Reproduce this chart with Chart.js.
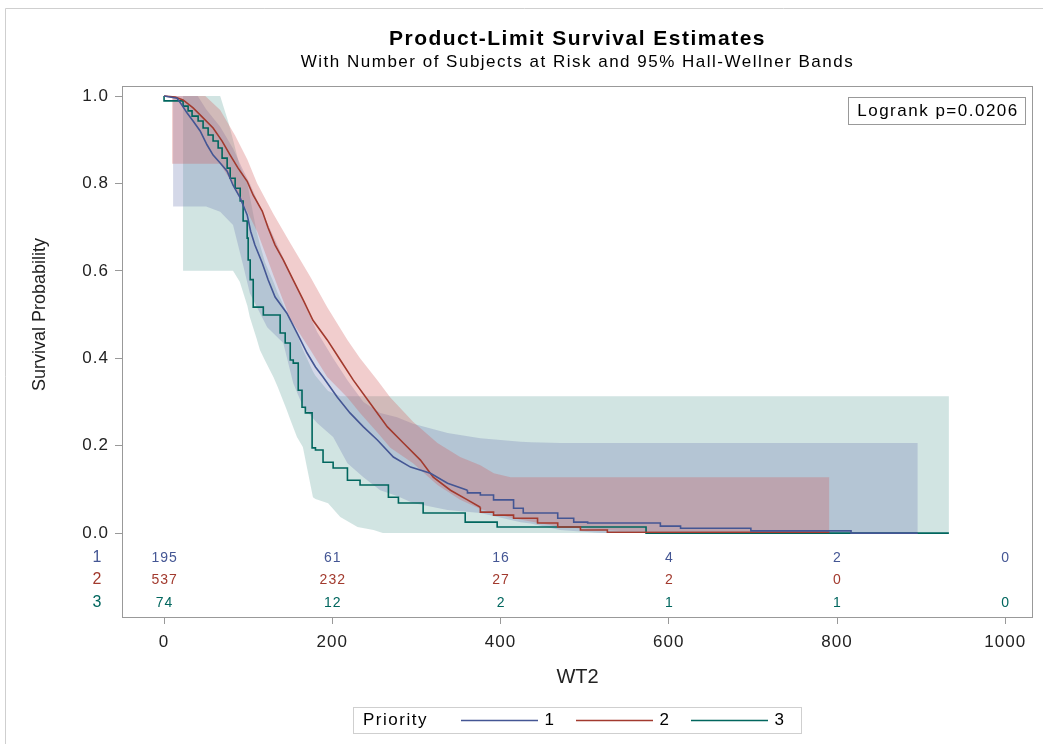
<!DOCTYPE html>
<html>
<head>
<meta charset="utf-8">
<script src="https://cdn.jsdelivr.net/npm/chart.js@4.4.1/dist/chart.umd.min.js"></script>
<style>
  html, body { margin: 0; padding: 0; background: #fff; }
</style>
</head>
<body>
<canvas id="km" width="1043" height="744"></canvas>
<script>
// ---- data ----
const risk_times = [0, 200, 400, 600, 800, 1000]
const at_risk_1 = [195, 61, 16, 4, 2, 0]
const at_risk_2 = [537, 232, 27, 2, 0, null]
const at_risk_3 = [74, 12, 2, 1, 1, 0]
const group_names = ['1', '2', '3']
const x_ticks = [0, 200, 400, 600, 800, 1000]
const y_ticks = [0, 0.2, 0.4, 0.6, 0.8, 1.0]

// product-limit estimates (step functions)
const time_1 = [0, 15.5, 21.4, 27.4, 34.5, 42.9, 51.2, 58.3, 66.7, 75, 82, 90.5, 98.8, 103, 108, 116.7, 123.8, 132, 146, 158, 170, 180, 189, 206, 221, 237, 253.6, 272.6, 293, 316.7, 337, 360.7, 376, 391.7, 415.5, 427, 468, 487, 503.6, 590, 614, 697.6, 816.7, 896]
const surv_1 = [1, 0.995, 0.979, 0.961, 0.943, 0.920, 0.888, 0.865, 0.847, 0.828, 0.796, 0.767, 0.728, 0.69, 0.659, 0.618, 0.579, 0.540, 0.503, 0.458, 0.412, 0.380, 0.357, 0.311, 0.275, 0.243, 0.213, 0.174, 0.151, 0.137, 0.114, 0.098, 0.092, 0.087, 0.076, 0.057, 0.046, 0.034, 0.025, 0.023, 0.016, 0.011, 0.005, 0.0]

const time_2 = [0, 13, 22.6, 34.5, 46.4, 58.3, 69, 78.6, 88, 98.8, 106, 116.7, 123.8, 132, 141.7, 153.6, 165.5, 177, 194, 209.5, 225, 245, 265.5, 284.5, 304.8, 320, 340.5, 360.7, 376, 391.7, 415.5, 444, 468, 495, 527, 650, 791]
const surv_2 = [1, 0.998, 0.991, 0.973, 0.950, 0.927, 0.897, 0.865, 0.835, 0.805, 0.773, 0.737, 0.698, 0.659, 0.625, 0.579, 0.533, 0.487, 0.442, 0.396, 0.350, 0.297, 0.243, 0.206, 0.167, 0.128, 0.098, 0.076, 0.059, 0.048, 0.041, 0.034, 0.023, 0.014, 0.007, 0.002, 0.002]

const time_3 = [0, 22.6, 28.6, 33.3, 40.5, 46.4, 52.4, 58.3, 64.3, 69, 75, 78.6, 84.5, 90.5, 94, 98.8, 100, 102.4, 106, 118, 138, 144, 150, 153.6, 159.5, 164, 168, 176, 180, 189, 201, 218, 233, 266.7, 278.6, 308, 358, 396, 573, 933]
const surv_3 = [1, 0.989, 0.977, 0.966, 0.954, 0.943, 0.927, 0.911, 0.897, 0.881, 0.858, 0.835, 0.812, 0.789, 0.760, 0.714, 0.675, 0.625, 0.58, 0.517, 0.499, 0.458, 0.435, 0.396, 0.389, 0.327, 0.288, 0.275, 0.195, 0.19, 0.162, 0.149, 0.121, 0.110, 0.082, 0.069, 0.046, 0.025, 0.014, 0]

// 95% Hall-Wellner bands
const band_x_1 = [10.7, 40, 50, 66.7, 82, 94, 102, 122.6, 141.7, 153.6, 165.5, 182, 201, 218, 237, 257, 277, 296, 337, 376, 424, 436, 471, 519, 896]
const band_hi_1 = [1, 1, 0.97, 0.93, 0.88, 0.83, 0.80, 0.71, 0.63, 0.58, 0.53, 0.46, 0.40, 0.35, 0.30, 0.275, 0.265, 0.25, 0.229, 0.217, 0.209, 0.208, 0.206, 0.206, 0.206]
const band_lo_1 = [0.747, 0.747, 0.747, 0.735, 0.705, 0.613, 0.549, 0.471, 0.435, 0.343, 0.288, 0.252, 0.22, 0.16, 0.128, 0.098, 0.085, 0.069, 0.053, 0.046, 0.025, 0.022, 0.007, 0, 0]

const band_x_2 = [9.5, 49, 66.7, 84.5, 99, 110.7, 130, 150, 174, 194, 218, 233, 253.6, 269, 296, 325, 352, 376, 392, 412, 471, 543, 791]
const band_hi_2 = [1, 1, 0.968, 0.91, 0.855, 0.80, 0.73, 0.664, 0.586, 0.517, 0.442, 0.40, 0.35, 0.31, 0.255, 0.206, 0.174, 0.155, 0.137, 0.128, 0.128, 0.128, 0.128]
const band_lo_2 = [0.845, 0.845, 0.845, 0.79, 0.735, 0.69, 0.59, 0.49, 0.419, 0.357, 0.31, 0.275, 0.23, 0.195, 0.16, 0.11, 0.076, 0.055, 0.046, 0.035, 0.014, 0.005, 0.002]

const band_x_3 = [22.6, 66.7, 76, 82, 90, 99, 102, 110, 114, 120, 130, 135, 146, 150, 158, 165, 177, 180, 195, 209.5, 230, 249, 260, 933]
const band_hi_3 = [1, 1, 0.943, 0.90, 0.84, 0.80, 0.77, 0.69, 0.66, 0.62, 0.575, 0.55, 0.505, 0.49, 0.455, 0.42, 0.37, 0.36, 0.325, 0.313, 0.313, 0.313, 0.313, 0.313]
const band_lo_3 = [0.60, 0.60, 0.60, 0.60, 0.575, 0.52, 0.494, 0.445, 0.419, 0.395, 0.357, 0.335, 0.281, 0.26, 0.22, 0.197, 0.082, 0.078, 0.068, 0.037, 0.014, 0.007, 0, 0]

const logrank_text = 'Logrank p=0.0206'

// ---- styles ----
const sans = "'Liberation Sans', Arial, sans-serif"
const line_colors = ['#445694', '#A23A2E', '#01665E']
const band_colors = ['rgba(111,126,179,0.3)', 'rgba(208,91,91,0.3)', 'rgba(102,165,160,0.3)']

function pts(xs, ys) {
    return xs.map((x, i) => ({ x: x, y: ys[i] }))
}

// busy part of a curve (many tiny steps) is drawn as a plain line,
// the sparse tail as a real staircase
function curve(xs, ys, color, dense_end) {
    const k = Math.max(0, xs.findIndex(t => t >= dense_end))
    const base = {
        borderColor: color,
        borderWidth: 1.6,
        pointRadius: 0,
        fill: false
    }
    const sets = []
    if (k > 0) {
        sets.push({ ...base, data: pts(xs.slice(0, k + 1), ys.slice(0, k + 1)), stepped: false })
    }
    sets.push({ ...base, data: pts(xs.slice(k), ys.slice(k)), stepped: 'after' })
    return sets
}

function band(xs, hi, lo, color) {
    return [{
        data: pts(xs, hi),
        borderColor: 'rgba(0,0,0,0)',
        borderWidth: 0,
        pointRadius: 0,
        backgroundColor: color,
        fill: { target: '+1' }
    }, {
        data: pts(xs, lo),
        borderColor: 'rgba(0,0,0,0)',
        borderWidth: 0,
        pointRadius: 0,
        fill: false
    }]
}

const risk_rows = [at_risk_1, at_risk_2, at_risk_3]
const row_offsets = [25, 47, 70]   // pixels below the 0.0 line

function spaced(ctx, font, spacing) {
    ctx.font = font
    ctx.letterSpacing = spacing
}

const extras = {
    id: 'km_extras',
    beforeDraw(chart) {
        const ctx = chart.ctx
        ctx.save()
        ctx.fillStyle = '#fff'
        ctx.fillRect(0, 0, chart.width, chart.height)
        ctx.strokeStyle = '#cfcfcf'
        ctx.lineWidth = 1
        ctx.beginPath()
        ctx.moveTo(5.5, chart.height)
        ctx.lineTo(5.5, 8.5)
        ctx.lineTo(chart.width, 8.5)
        ctx.stroke()
        ctx.restore()
        // wider letter spacing for the tick labels
        ctx.letterSpacing = '1px'
    },
    afterDraw(chart) {
        const ctx = chart.ctx
        const area = chart.chartArea
        const xs = chart.scales.x
        const ys = chart.scales.y
        const cx = (area.left + area.right) / 2
        const y0 = ys.getPixelForValue(0)
        const y1 = ys.getPixelForValue(1)

        ctx.save()
        // plot frame
        ctx.strokeStyle = '#999'
        ctx.lineWidth = 1
        ctx.strokeRect(Math.round(area.left) + 0.5, Math.round(area.top) + 0.5,
            Math.round(area.right - area.left) - 1, Math.round(area.bottom - area.top))

        ctx.fillStyle = '#000'
        ctx.textAlign = 'center'
        ctx.textBaseline = 'middle'
        spaced(ctx, `bold 21px ${sans}`, '1.5px')
        ctx.fillText('Product-Limit Survival Estimates', cx, 39)
        spaced(ctx, `17px ${sans}`, '1.5px')
        ctx.fillText('With Number of Subjects at Risk and 95% Hall-Wellner Bands', cx, 62)

        // axis titles
        ctx.fillStyle = '#222'
        spaced(ctx, `20px ${sans}`, '0px')
        ctx.fillText('WT2', cx, 677)
        ctx.save()
        ctx.translate(40, (y0 + y1) / 2)
        ctx.rotate(-Math.PI / 2)
        spaced(ctx, `18px ${sans}`, '0px')
        ctx.fillText('Survival Probability', 0, 0)
        ctx.restore()

        // number at risk table
        risk_rows.forEach((row, g) => {
            const ry = y0 + row_offsets[g]
            ctx.fillStyle = line_colors[g]
            spaced(ctx, `16px ${sans}`, '0px')
            ctx.fillText(group_names[g], 97, ry)
            spaced(ctx, `14px ${sans}`, '1px')
            row.forEach((n, i) => {
                if (n === null) return
                ctx.fillText(String(n), xs.getPixelForValue(risk_times[i]) + 0.5, ry)
            })
        })

        // logrank inset
        const bx = Math.round(area.right) - 185
        const by = Math.round(area.top) + 11
        ctx.fillStyle = '#fff'
        ctx.fillRect(bx, by, 177, 27)
        ctx.strokeStyle = '#999'
        ctx.strokeRect(bx + 0.5, by + 0.5, 177, 27)
        ctx.fillStyle = '#000'
        spaced(ctx, `17px ${sans}`, '1.5px')
        ctx.fillText(logrank_text, bx + 90, by + 14)

        // legend
        const lx = Math.round(cx) - 225
        const ly = 707
        ctx.strokeStyle = '#cfcfcf'
        ctx.strokeRect(lx + 0.5, ly + 0.5, 448, 26)
        ctx.fillStyle = '#000'
        ctx.textAlign = 'left'
        spaced(ctx, `17px ${sans}`, '1.5px')
        ctx.fillText('Priority', lx + 10, ly + 13)
        const item_x = [108, 223, 338]
        group_names.forEach((name, g) => {
            const sx = lx + item_x[g]
            ctx.strokeStyle = line_colors[g]
            ctx.lineWidth = 1.5
            ctx.beginPath()
            ctx.moveTo(sx, ly + 13.5)
            ctx.lineTo(sx + 77, ly + 13.5)
            ctx.stroke()
            ctx.fillStyle = '#000'
            ctx.textAlign = 'center'
            ctx.fillText(name, sx + 89, ly + 13)
        })
        ctx.restore()
        ctx.letterSpacing = '0px'
    }
}

new Chart(document.getElementById('km'), {
    type: 'line',
    data: {
        datasets: [
            ...curve(time_1, surv_1, line_colors[0], 360.7),
            ...curve(time_2, surv_2, line_colors[1], 376),
            ...curve(time_3, surv_3, line_colors[2], 0),
            ...band(band_x_2, band_hi_2, band_lo_2, band_colors[1]),
            ...band(band_x_1, band_hi_1, band_lo_1, band_colors[0]),
            ...band(band_x_3, band_hi_3, band_lo_3, band_colors[2])
        ]
    },
    options: {
        responsive: false,
        animation: false,
        devicePixelRatio: 1,
        layout: { padding: { top: 86, right: 10, bottom: 47, left: 0 } },
        plugins: {
            legend: { display: false },
            title: { display: false },
            tooltip: { enabled: false }
        },
        scales: {
            x: {
                type: 'linear',
                min: -50,
                max: 1033,
                afterBuildTicks: axis => { axis.ticks = x_ticks.map(v => ({ value: v })) },
                afterFit: axis => { axis.height = 80 },
                grid: { drawOnChartArea: false, drawTicks: true, tickLength: 7, color: '#999' },
                border: { display: false },
                ticks: {
                    color: '#222',
                    font: { family: sans, size: 17 },
                    padding: 8,
                    maxRotation: 0,
                    callback: v => String(v)
                }
            },
            y: {
                type: 'linear',
                min: -0.192,
                max: 1.023,
                afterBuildTicks: axis => { axis.ticks = y_ticks.map(v => ({ value: v })) },
                afterFit: axis => { axis.width = 122 },
                grid: { drawOnChartArea: false, drawTicks: true, tickLength: 7, color: '#999' },
                border: { display: false },
                ticks: {
                    color: '#222',
                    font: { family: sans, size: 17 },
                    padding: 6,
                    callback: v => v.toFixed(1)
                }
            }
        }
    },
    plugins: [extras]
})
</script>
</body>
</html>
